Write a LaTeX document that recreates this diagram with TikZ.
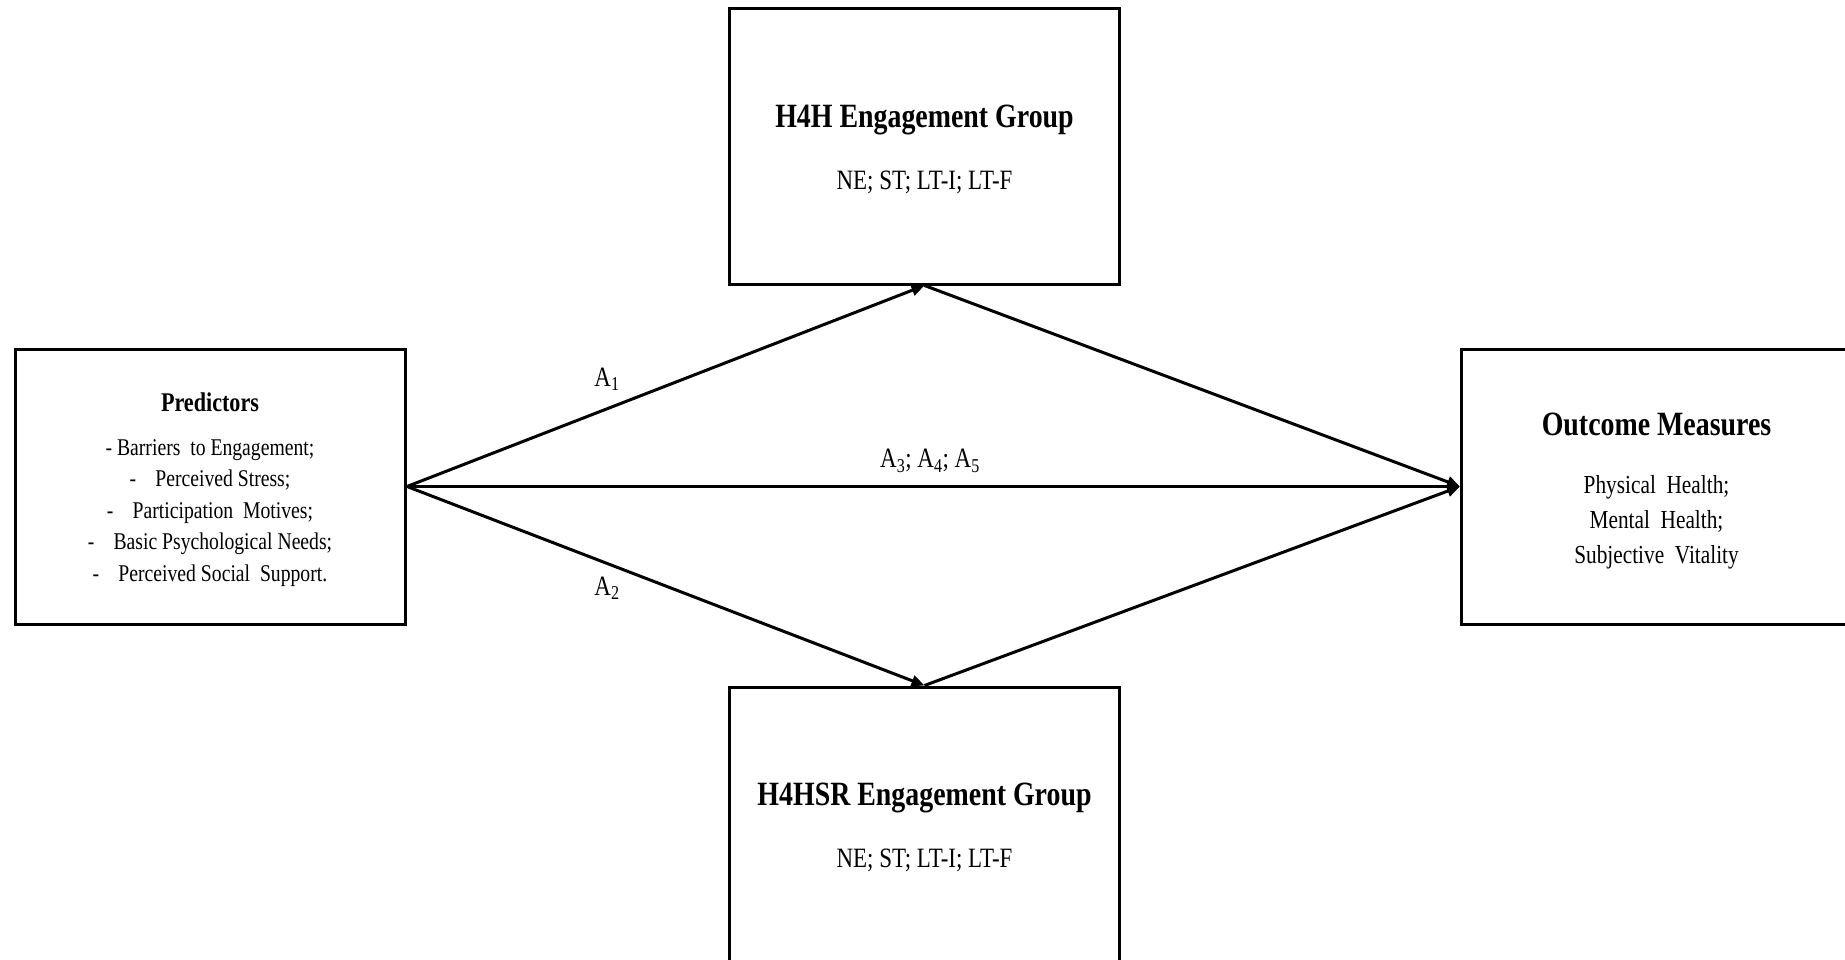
\documentclass[tikz,border=0pt]{standalone}
\usepackage{fontspec}
\setmainfont{Liberation Serif}[FakeStretch=0.82]
\usetikzlibrary{arrows.meta}
\tikzset{
  box/.style={draw=black, line width=3pt, minimum width=390pt, minimum height=275pt, inner sep=0pt},
  conn/.style={line width=3pt, -{Triangle[length=13pt,width=11pt]}},
  ttl/.style={font=\fontsize{34}{38}\selectfont\bfseries, inner sep=0pt},
  sub/.style={font=\fontsize{28}{32}\selectfont, inner sep=0pt},
  lbl/.style={font=\fontsize{28}{32}\selectfont, inner sep=0pt}
}
\begin{document}
\begin{tikzpicture}[x=1pt,y=-1pt]
\useasboundingbox (0,0) rectangle (1845,960);
\fill[white] (0,0) rectangle (1845,960);
\clip (0,0) rectangle (1845,960);
% boxes
\node[box] (pred) at (210.5,486.5) {};
\node[box] (top) at (924.5,146.5) {};
\node[box, minimum height=300pt] (bot) at (924.5,837) {};
\node[box] (out) at (1656.5,486.5) {};
% texts
\node[font=\fontsize{27}{31}\selectfont\bfseries, inner sep=0pt] (predt) at (210,402) {Predictors};
\node[font=\fontsize{24}{31.5}\selectfont, align=center, inner sep=0pt] (predb) at (210,513)
  {- Barriers\ \ to Engagement;\\
   -\hspace{0.8em}Perceived Stress;\\
   -\hspace{0.8em}Participation\ \ Motives;\\
   -\hspace{0.8em}Basic Psychological Needs;\\
   -\hspace{0.8em}Perceived Social\ \ Support.};
\node[ttl] (topt) at (924.5,120) {H4H Engagement Group};
\node[sub] (topb) at (924.5,182) {NE; ST; LT-I; LT-F};
\node[ttl] (bott) at (924.5,798) {H4HSR Engagement Group};
\node[sub] (botb) at (924.5,860) {NE; ST; LT-I; LT-F};
\node[ttl] (outt) at (1656.5,424) {Outcome Measures};
\node[font=\fontsize{26}{35}\selectfont, align=center, inner sep=0pt] (outb) at (1656.5,522)
  {Physical\ \ Health;\\ Mental\ \ Health;\\ Subjective\ \ Vitality};
% connectors
\draw[conn] (pred.east) -- (top.south);
\draw[conn] (pred.east) -- (bot.north);
\draw[conn] (pred.east) -- (out.west);
\draw[conn] (top.south) -- (out.west);
\draw[conn] (bot.north) -- (out.west);
% labels
\node[lbl] (a1) at (607,379) {A\textsubscript{1}};
\node[lbl] (a2) at (607,588) {A\textsubscript{2}};
\node[lbl] (a3) at (930,461) {A\textsubscript{3}; A\textsubscript{4}; A\textsubscript{5}};
\end{tikzpicture}
\end{document}
